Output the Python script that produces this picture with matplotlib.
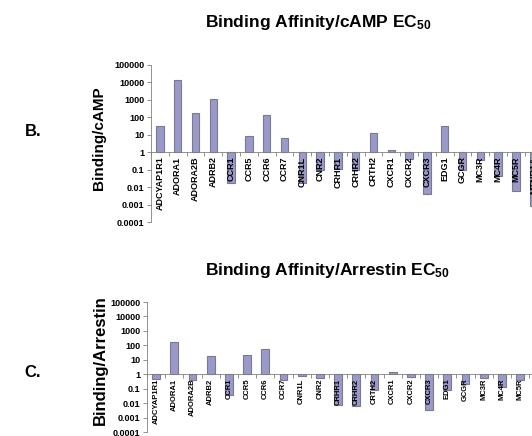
import matplotlib.pyplot as plt
from matplotlib.ticker import FixedLocator, NullFormatter

plt.rcParams['font.family'] = ['Liberation Sans', 'DejaVu Sans']
plt.rcParams['mathtext.default'] = 'regular'

# receptors (the last one in the top chart is cut off at the right edge)
receptors = ['ADCYAP1R1', 'ADORA1', 'ADORA2B', 'ADRB2', 'CCR1', 'CCR5', 'CCR6',
             'CCR7', 'CNR1L', 'CNR2', 'CRHR1', 'CRHR2', 'CRTH2', 'CXCR1', 'CXCR2',
             'CXCR3', 'EDG1', 'GCGR', 'MC3R', 'MC4R', 'MC5R', 'MTNR1A']

camp = [32, 13000, 170, 1200, 0.017, 8.3, 130, 6.6, 0.017, 0.1, 0.11, 0.1,
        12.8, 1.36, 0.41, 0.004, 31, 0.09, 0.36, 0.044, 0.006, 0.00085]

arrestin = [0.45, 158, 0.4, 18, 0.035, 21, 57, 0.4, 0.77, 0.53, 0.007, 0.0063,
            0.078, 1.45, 0.69, 0.0033, 0.075, 0.2, 0.53, 0.14, 0.4]

yticks = [1e-4, 1e-3, 1e-2, 1e-1, 1, 10, 100, 1000, 10000, 100000]
ylabels = ['0.0001', '0.001', '0.01', '0.1', '1', '10', '100', '1000',
           '10000', '100000']

W, H = 532, 436
fig = plt.figure(figsize=(W / 100, H / 100), dpi=100)


def make_axes(left, top, bottom, step):
    # pixel box -> figure fraction; 22 category slots wide
    width = 22 * step
    return fig.add_axes([left / W, 1 - bottom / H, width / W, (bottom - top) / H])


def draw(ax, values, xsize):
    x = list(range(len(values)))
    heights = [v - 1 for v in values]
    ax.bar(x, heights, bottom=1, width=0.42, color='#9999cc',
           edgecolor='#7a7a8a', linewidth=0.8, zorder=2)
    ax.set_yscale('log')
    ax.set_ylim(1e-4, 1e5)
    ax.set_xlim(-0.5, 21.5)
    ax.set_axisbelow(False)  # category names sit on top of the bars
    # x axis crosses at 1 (set before ticks: it resets them)
    for s in ['top', 'right']:
        ax.spines[s].set_visible(False)
    ax.spines['bottom'].set_position(('data', 1))
    ax.spines['bottom'].set_color('#808080')
    ax.spines['left'].set_color('#808080')
    ax.spines['bottom'].set_linewidth(0.6)
    ax.spines['left'].set_linewidth(0.6)

    ax.yaxis.set_major_locator(FixedLocator(yticks))
    ax.yaxis.set_minor_locator(FixedLocator([]))
    ax.yaxis.set_minor_formatter(NullFormatter())
    ax.set_yticklabels(ylabels, fontsize=6.5, fontweight='bold')
    ax.tick_params(axis='y', length=3, width=0.6, color='#808080', pad=2)
    ax.set_xticks(range(len(values)))
    ax.set_xticklabels(receptors[:len(values)], rotation=90, fontsize=xsize,
                       fontweight='bold', va='top', ha='center')
    ax.set_xticks([i + 0.5 for i in range(-1, 22)], minor=True)
    ax.tick_params(axis='x', which='major', length=0, pad=3)
    ax.tick_params(axis='x', which='minor', length=3, width=0.6, color='#808080')


ax1 = make_axes(151, 65, 222, 17.8)
draw(ax1, camp, 6.5)

ax2 = make_axes(147, 302, 432, 18.2)
draw(ax2, arrestin, 5.5)

fig.text(99 / W, 1 - 138 / H, 'Binding/cAMP', rotation=90, fontsize=11,
         fontweight='bold', ha='center', va='center')
fig.text(100 / W, 1 - 360 / H, 'Binding/Arrestin', rotation=90, fontsize=12,
         fontweight='bold', ha='center', va='center')

fig.text(205 / W, 1 - 22 / H, r'Binding Affinity/cAMP EC$_{50}$',
         fontsize=12.5, fontweight='bold', ha='left', va='center')
fig.text(205 / W, 1 - 270 / H, r'Binding Affinity/Arrestin EC$_{50}$',
         fontsize=12.5, fontweight='bold', ha='left', va='center')
fig.text(33 / W, 1 - 131 / H, 'B.', fontsize=12, fontweight='bold',
         ha='center', va='center')
fig.text(33 / W, 1 - 372 / H, 'C.', fontsize=12, fontweight='bold',
         ha='center', va='center')

fig.savefig('out.png', dpi=100)
